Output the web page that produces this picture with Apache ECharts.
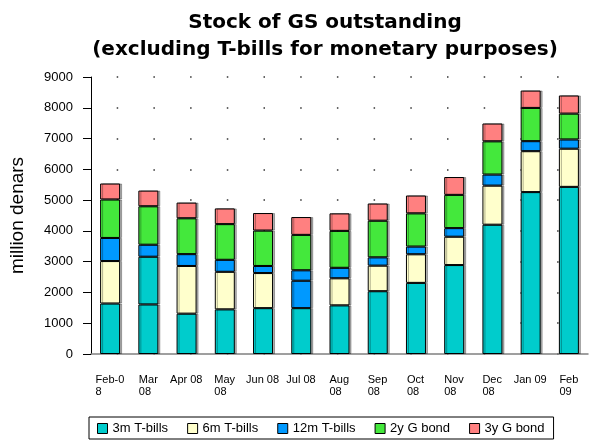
<!DOCTYPE html>
<html>
<head>
<meta charset="utf-8">
<script src="https://cdn.jsdelivr.net/npm/echarts@6/dist/echarts.min.js"></script>
<style>
  html, body { margin: 0; padding: 0; background: #fff; }
  #chart { width: 589px; height: 441px; }
</style>
</head>
<body>
<div id="chart"></div>
<script>
// category labels as printed under the axis
const months = ["Feb-0\n8", "Mar\n08", "Apr 08", "May\n08", "Jun 08", "Jul 08", "Aug\n08",
  "Sep\n08", "Oct\n08", "Nov\n08", "Dec\n08", "Jan 09", "Feb\n09"];

// million denars
const bills3m = [1640, 1610, 1310, 1450, 1490, 1490, 1580, 2040, 2310, 2890, 4200, 5260, 5430];
const bills6m = [1380, 1550, 1550, 1220, 1140, 890, 880, 830, 930, 920, 1270, 1330, 1240];
const bills12m = [750, 390, 385, 390, 230, 340, 340, 270, 250, 280, 360, 325, 300];
const bond2y = [1250, 1250, 1165, 1160, 1150, 1150, 1200, 1190, 1080, 1080, 1080, 1080, 840];
const bond3y = [520, 510, 510, 510, 570, 580, 570, 560, 580, 580, 580, 565, 590];

const yTicks = [0, 1000, 2000, 3000, 4000, 5000, 6000, 7000, 8000, 9000];

// colours
const colors = ["#00CCCC", "#FFFFCC", "#0099FF", "#44E83C", "#FF8080"];
// in the original two 6m segments were painted in another colour
const sixMonthOverride = { 1: "#00CCCC", 5: "#0099FF" };

const FONT = "Liberation Sans, Arial, sans-serif";

// x labels: second line is left aligned under the first one
const ctx = document.createElement("canvas").getContext("2d");
ctx.font = "11px " + FONT;
const rich = {};
months.forEach((m, i) => {
  const first = m.split("\n")[0];
  rich["w" + i] = { width: Math.ceil(ctx.measureText(first).width), align: "left", fontSize: 11, lineHeight: 12, fontFamily: FONT, color: "#000" };
});

function stack(name, data, color) {
  return {
    name: name,
    type: "bar",
    stack: "all",
    barWidth: 20,
    itemStyle: {
      color: color, borderColor: "#000", borderWidth: 1,
      shadowColor: "rgba(0,0,0,0.3)", shadowOffsetX: 2, shadowOffsetY: 0,
    },
    data: data,
  };
}

const s6m = stack("6m T-bills", bills6m.map((v, i) =>
  sixMonthOverride[i] ? { value: v, itemStyle: { color: sixMonthOverride[i] } } : v), colors[1]);

let myChart = echarts.init(document.getElementById("chart"));
let option = {
  animation: false,
  textStyle: { fontFamily: FONT },
  color: colors,
  title: {
    text: "Stock of GS outstanding\n(excluding T-bills for monetary purposes)",
    left: 320,
    top: 4,
    textAlign: "center",
    textStyle: { fontSize: 20, fontWeight: "bold", color: "#000", lineHeight: 27, fontFamily: "DejaVu Sans" },
  },
  legend: {
    left: 89,
    top: 417,
    itemWidth: 10,
    itemHeight: 10,
    itemGap: 19,
    padding: [5, 9, 4, 8],
    borderColor: "#000",
    borderWidth: 1,
    icon: "rect",
    itemStyle: { borderColor: "#000", borderWidth: 1, shadowColor: "transparent" },
    textStyle: { fontSize: 13, color: "#000", fontFamily: FONT },
    data: ["3m T-bills", "6m T-bills", "12m T-bills", "2y G bond", "3y G bond"],
  },
  grid: { left: 87, right: 1, top: 77, bottom: 87 },
  xAxis: {
    type: "category",
    data: months,
    boundaryGap: true,
    axisLine: { lineStyle: { color: "#808080", width: 1.5 } },
    axisTick: { alignWithLabel: true, length: 9, lineStyle: { color: "#000" } },
    axisLabel: {
      interval: 0,
      margin: 20,
      color: "#000",
      fontSize: 11,
      lineHeight: 12,
      formatter: (value, idx) => value.split("\n").map(l => "{w" + idx + "|" + l + "}").join("\n"),
      rich: rich,
    },
  },
  yAxis: {
    type: "value",
    min: yTicks[0],
    max: yTicks[yTicks.length - 1],
    interval: 1000,
    name: "million denars",
    nameLocation: "middle",
    nameGap: 64,
    nameTextStyle: { fontSize: 19, color: "#000", fontFamily: FONT },
    axisLine: { show: true, lineStyle: { color: "#000" } },
    axisTick: { show: true, length: 8, lineStyle: { color: "#000" } },
    axisLabel: { color: "#000", fontSize: 13, margin: 18, formatter: v => String(v) },
    splitLine: { show: true, lineStyle: { color: "#333", width: 1.5, type: [1.5, 35.2], dashOffset: 11 } },
  },
  series: [
    stack("3m T-bills", bills3m, colors[0]),
    s6m,
    stack("12m T-bills", bills12m, colors[2]),
    stack("2y G bond", bond2y, colors[3]),
    stack("3y G bond", bond3y, colors[4]),
  ],
};
myChart.setOption(option);
</script>
</body>
</html>
